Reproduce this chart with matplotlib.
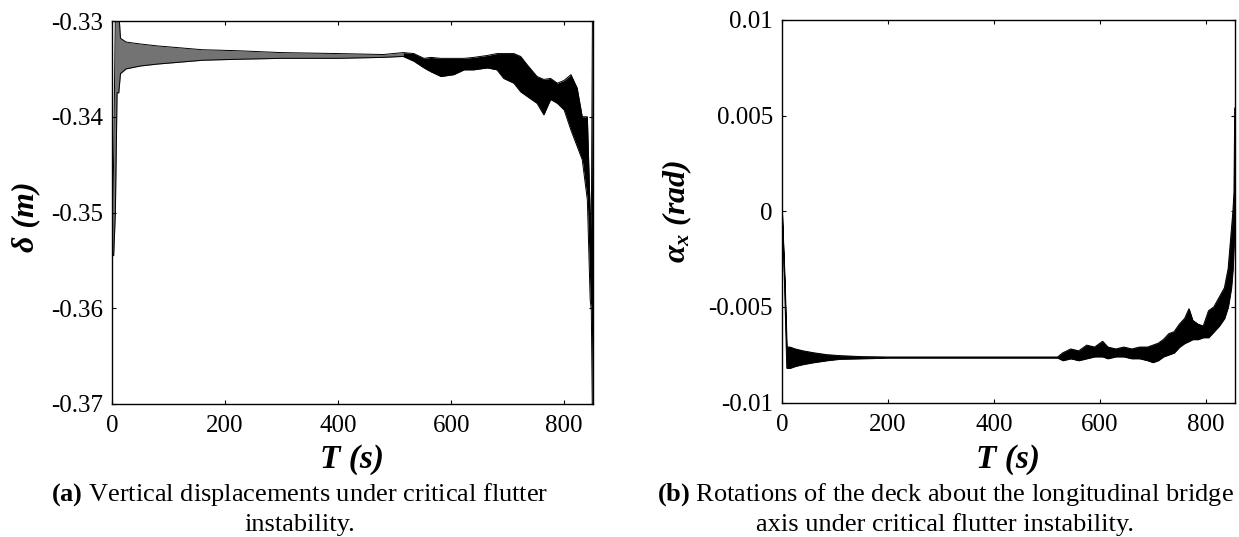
import numpy as np
import matplotlib
matplotlib.use("Agg")
import matplotlib.pyplot as plt
from matplotlib.ticker import FormatStrFormatter

plt.rcParams['font.family'] = ['Liberation Serif', 'DejaVu Serif']
plt.rcParams['axes.unicode_minus'] = False
plt.rcParams['mathtext.fontset'] = 'custom'
plt.rcParams['mathtext.rm'] = 'Liberation Serif'
plt.rcParams['mathtext.it'] = 'Liberation Serif:italic:bold'
plt.rcParams['mathtext.bf'] = 'Liberation Serif:bold'

# (a) vertical displacement, envelope (upper / lower)
t_a = [0, 3, 6, 9, 12, 15, 25, 50, 80, 120, 160, 220, 300, 400, 480, 515, 534, 552,
       564, 582, 605, 623, 640, 664, 681, 693, 711, 723, 735, 752, 764, 776, 788, 800,
       812, 823, 832, 841, 846, 848, 850, 851]
up_a = [-0.3540, -0.3440, -0.3290, -0.3290, -0.3290, -0.3318, -0.3322, -0.3324, -0.3326,
        -0.3328, -0.3330, -0.3331, -0.3333, -0.3334, -0.3335, -0.3333, -0.3334, -0.3339,
        -0.3338, -0.3339, -0.3339, -0.3339, -0.3338, -0.3336, -0.3334, -0.3334, -0.3334,
        -0.3337, -0.3346, -0.3358, -0.3361, -0.3360, -0.3365, -0.3362, -0.3356, -0.3370,
        -0.3400, -0.3400, -0.3500, -0.3520, -0.3290, -0.3290]
lo_a = [-0.3545, -0.3545, -0.3500, -0.3375, -0.3375, -0.3355, -0.3350, -0.3347, -0.3345,
        -0.3343, -0.3341, -0.3340, -0.3339, -0.3339, -0.3338, -0.3337, -0.3342, -0.3349,
        -0.3353, -0.3358, -0.3356, -0.3351, -0.3351, -0.3349, -0.3351, -0.3360, -0.3365,
        -0.3374, -0.3379, -0.3386, -0.3398, -0.3382, -0.3386, -0.3393, -0.3414, -0.3431,
        -0.3445, -0.3487, -0.3591, -0.3602, -0.3720, -0.3720]

# (b) deck rotation, envelope (upper / lower)
t_b = [0, 5, 9, 15, 25, 40, 60, 85, 110, 150, 200, 520, 530, 545, 560, 575, 590, 605,
       615, 630, 645, 660, 675, 690, 700, 710, 720, 730, 740, 750, 760, 768, 775, 785,
       795, 805, 815, 825, 835, 842, 848, 851, 853, 854.5]
up_b = [0.0, -0.0035, -0.0071, -0.0071, -0.0072, -0.0073, -0.0074, -0.0075, -0.00755,
        -0.0076, -0.00762, -0.00762, -0.0074, -0.0072, -0.0073, -0.0070, -0.0071, -0.0068,
        -0.0071, -0.0072, -0.0071, -0.0072, -0.0071, -0.0071, -0.0070, -0.0069, -0.0067,
        -0.0064, -0.0063, -0.0059, -0.0056, -0.0051, -0.0057, -0.0059, -0.0060, -0.0052,
        -0.0050, -0.0045, -0.0040, -0.0030, -0.0010, 0.0000, 0.0010, 0.0054]
lo_b = [0.0, -0.0040, -0.0082, -0.0082, -0.0081, -0.0080, -0.0079, -0.0078, -0.00772,
        -0.0077, -0.00766, -0.00766, -0.0078, -0.0077, -0.0078, -0.0077, -0.0076, -0.0076,
        -0.0077, -0.0076, -0.0076, -0.0077, -0.0077, -0.0078, -0.0079, -0.0078, -0.0076,
        -0.0075, -0.0074, -0.0071, -0.0069, -0.0068, -0.0067, -0.0067, -0.0066, -0.0066,
        -0.0063, -0.0060, -0.0056, -0.0050, -0.0040, -0.0030, -0.0017, -0.0012]

xticks = [0, 200, 400, 600, 800]
yticks_a = [-0.37, -0.36, -0.35, -0.34, -0.33]
yticks_b = [-0.01, -0.005, 0, 0.005, 0.01]

W, H = 1239, 537
fig = plt.figure(figsize=(W / 100, H / 100), dpi=100)
ax1 = fig.add_axes([112 / W, 1 - 404 / H, 481 / W, 383 / H])
ax2 = fig.add_axes([782 / W, 1 - 402.5 / H, 453 / W, 382.5 / H])


def style(ax):
    for s in ax.spines.values():
        s.set_linewidth(1.0)
        s.set_color('black')
    ax.tick_params(direction='in', top=True, right=True, length=3, width=0.8,
                   labelsize=18)
    ax.tick_params(axis='x', pad=8)
    ax.tick_params(axis='y', pad=6.5)
    ax.set_xticks(xticks)


# panel (a)
t = np.array(t_a)
up = np.array(up_a)
lo = np.array(lo_a)
calm = t <= 515
ax1.fill_between(t[calm], lo[calm], up[calm], color='0.45', lw=0)
ax1.fill_between(t[t >= 515], lo[t >= 515], up[t >= 515], color='black', lw=0)
ax1.plot(t, up, color='black', lw=0.7)
ax1.plot(t, lo, color='black', lw=0.7)
ax1.set_xlim(0, 851)
ax1.set_ylim(-0.37, -0.33)
style(ax1)
ax1.set_yticks(yticks_a)
ax1.yaxis.set_major_formatter(FormatStrFormatter('%g'))
ax1.set_xlabel('T (s)', fontsize=24, fontweight='bold', fontstyle='italic', va='baseline')
ax1.xaxis.set_label_coords(0.5, (404 - 468) / 383)
ax1.set_ylabel('δ (m)', fontsize=23, fontweight='bold', fontstyle='italic', va='center')
ax1.yaxis.set_label_coords((26 - 112) / 481, 0.49)

# panel (b)
ax2.fill_between(t_b, lo_b, up_b, color='black', lw=0.6)
ax2.plot(t_b, up_b, color='black', lw=0.7)
ax2.plot(t_b, lo_b, color='black', lw=0.7)
ax2.set_xlim(0, 855)
ax2.set_ylim(-0.01, 0.01)
style(ax2)
ax2.set_yticks(yticks_b)
ax2.yaxis.set_major_formatter(FormatStrFormatter('%g'))
ax2.set_xlabel('T (s)', fontsize=24, fontweight='bold', fontstyle='italic', va='baseline')
ax2.xaxis.set_label_coords(0.5, (402.5 - 468) / 382.5)
ax2.set_ylabel(r'$\alpha_x$ (rad)', fontsize=23, fontweight='bold', fontstyle='italic',
               va='center')
ax2.yaxis.set_label_coords((677 - 782) / 453, 0.5)

# captions
fig.text(300 / W, 1 - 501 / H, r'$\mathbf{(a)}$ Vertical displacements under critical flutter',
         ha='center', va='baseline', fontsize=19)
fig.text(300 / W, 1 - 531 / H, 'instability.', ha='center', va='baseline', fontsize=19)
fig.text(945 / W, 1 - 501 / H,
         r'$\mathbf{(b)}$ Rotations of the deck about the longitudinal bridge',
         ha='center', va='baseline', fontsize=19)
fig.text(945 / W, 1 - 531 / H, 'axis under critical flutter instability.',
         ha='center', va='baseline', fontsize=19)

fig.savefig('out.png', dpi=100)
